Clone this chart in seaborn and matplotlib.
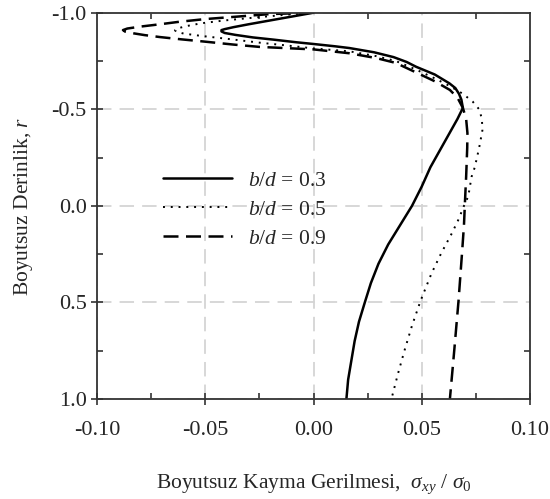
import numpy as np
import pandas as pd
import matplotlib
matplotlib.use("Agg")
import matplotlib.pyplot as plt
import seaborn as sns
from matplotlib.ticker import MultipleLocator, FormatStrFormatter

# ---- data ----
labels = ["0.3", "0.5", "0.9"]

r03 = [-1.0, -0.98, -0.96, -0.94, -0.925, -0.915, -0.91, -0.903, -0.895, -0.885, -0.872, -0.86,
       -0.847, -0.838, -0.826, -0.817, -0.795, -0.77, -0.745, -0.72, -0.68, -0.634, -0.61, -0.58,
       -0.55, -0.507, -0.45, -0.4, -0.3, -0.2, -0.1, 0.0, 0.1, 0.2, 0.3, 0.4, 0.5, 0.6, 0.7, 0.8,
       0.9, 1.0]
x03 = [0.0, -0.010, -0.020, -0.030, -0.037, -0.041, -0.0425, -0.0425, -0.041, -0.036, -0.028, -0.018,
       -0.008, 0.0, 0.010, 0.0166, 0.028, 0.037, 0.043, 0.0474, 0.056, 0.0628, 0.0655, 0.0672,
       0.0683, 0.069, 0.0665, 0.064, 0.059, 0.054, 0.050, 0.0455, 0.040, 0.0345, 0.030, 0.0265,
       0.0237, 0.021, 0.019, 0.0175, 0.016, 0.0152]

r05 = [-1.0, -0.99, -0.975, -0.96, -0.945, -0.93, -0.918, -0.91, -0.902, -0.892, -0.88, -0.865,
       -0.845, -0.83, -0.815, -0.80, -0.775, -0.75, -0.705, -0.66, -0.62, -0.58, -0.54, -0.5,
       -0.45, -0.39, -0.3, -0.2, -0.15, -0.05, 0.0, 0.07, 0.14, 0.245, 0.35, 0.49, 0.62, 0.75,
       0.87, 1.0]
x05 = [0.0, -0.012, -0.027, -0.041, -0.052, -0.059, -0.063, -0.064, -0.0635, -0.060, -0.052, -0.040,
       -0.025, -0.012, 0.0, 0.0166, 0.029, 0.038, 0.0475, 0.056, 0.063, 0.069, 0.0735, 0.0765,
       0.0778, 0.078, 0.0765, 0.0745, 0.073, 0.0715, 0.0695, 0.067, 0.064, 0.059, 0.0545, 0.0495,
       0.0455, 0.042, 0.039, 0.036]

r09 = [-1.0, -0.993, -0.98, -0.967, -0.953, -0.94, -0.928, -0.918, -0.91, -0.902, -0.893, -0.884,
       -0.874, -0.862, -0.85, -0.835, -0.823, -0.81, -0.79, -0.765, -0.74, -0.69, -0.645, -0.60,
       -0.56, -0.507, -0.45, -0.377, -0.3, -0.15, -0.03, 0.1, 0.245, 0.49, 0.75, 1.0]
x09 = [0.0, -0.020, -0.035, -0.050, -0.062, -0.071, -0.080, -0.086, -0.088, -0.087, -0.083, -0.078,
       -0.071, -0.061, -0.050, -0.037, -0.025, 0.0, 0.0166, 0.029, 0.038, 0.0475, 0.056, 0.063,
       0.0665, 0.069, 0.0705, 0.0711, 0.071, 0.0705, 0.070, 0.0695, 0.0686, 0.067, 0.065, 0.063]

xticks = [-0.10, -0.05, 0.00, 0.05, 0.10]
yticks = [-1.0, -0.5, 0.0, 0.5, 1.0]

# ---- build long-form table ----
frames = []
for lab, xs, rs in zip(labels, [x03, x05, x09], [r03, r05, r09]):
    frames.append(pd.DataFrame({"x": xs, "r": rs, "series": lab, "order": np.arange(len(xs))}))
df = pd.concat(frames, ignore_index=True)

sns.set_theme(style="white")
plt.rcParams["font.family"] = ["Liberation Serif", "DejaVu Serif"]
plt.rcParams["mathtext.fontset"] = "custom"
plt.rcParams["mathtext.rm"] = "Liberation Serif"
plt.rcParams["mathtext.it"] = "Liberation Serif:italic"
plt.rcParams["mathtext.bf"] = "Liberation Serif:bold"
plt.rcParams["axes.unicode_minus"] = False

fig = plt.figure(figsize=(5.5, 4.99), dpi=100)
ax = fig.add_axes([97 / 550, 1 - 399 / 499, (530 - 97) / 550, (399 - 12.7) / 499])

sns.lineplot(data=df, x="x", y="r", hue="series", style="series", sort=False, estimator=None,
             palette={"0.3": "black", "0.5": "black", "0.9": "black"},
             dashes={"0.3": "", "0.5": (1, 3), "0.9": (6, 3)},
             ax=ax, legend=True)
for ln, lw in zip(ax.get_lines()[:3], [1.8, 1.4, 1.8]):
    ln.set_linewidth(lw)

ax.set_xlim(-0.10, 0.10)
ax.set_ylim(1.0, -1.0)
ax.set_xticks(xticks)
ax.set_yticks(yticks)
ax.xaxis.set_major_formatter(FormatStrFormatter("%.2f"))
ax.yaxis.set_major_formatter(FormatStrFormatter("%.1f"))
ax.xaxis.set_minor_locator(MultipleLocator(0.025))
ax.yaxis.set_minor_locator(MultipleLocator(0.25))

ax.grid(True, which="major", color="#d4d4d4", linestyle=(0, (8, 4.5)), linewidth=1.3)
ax.set_axisbelow(True)
for s in ax.spines.values():
    s.set_color("#333333")
    s.set_linewidth(1.3)

ax.tick_params(which="major", direction="inout", length=9, width=1.2, color="#333333",
               labelsize=16, pad=3, bottom=True, left=True, top=False, right=False)
ax.tick_params(axis="x", which="major", pad=11)
ax.tick_params(which="minor", direction="in", length=4.5, width=1.2, color="#333333",
               bottom=True, left=True, top=True, right=True)

ax.set_xlabel(r"Boyutsuz Kayma Gerilmesi,  $\sigma_{xy}$ / $\sigma_0$", fontsize=15.5, labelpad=24)
ax.set_ylabel(r"Boyutsuz Derinlik, $r$", fontsize=15.5, labelpad=12)

handles, labs = ax.get_legend_handles_labels()
hmap = dict(zip(labs, handles))
hs = [hmap[l] for l in labels]
for h, lw in zip(hs, [1.8, 1.4, 1.8]):
    h.set_linewidth(lw)
leg = ax.legend(hs, [rf"$b/d$ = {l}" for l in labels], loc="center left",
                bbox_to_anchor=(0.127, 0.49), frameon=False, fontsize=15.5,
                handlelength=3.2, handletextpad=0.75, labelspacing=0.42, borderpad=0)

fig.savefig("out.png", dpi=100)
